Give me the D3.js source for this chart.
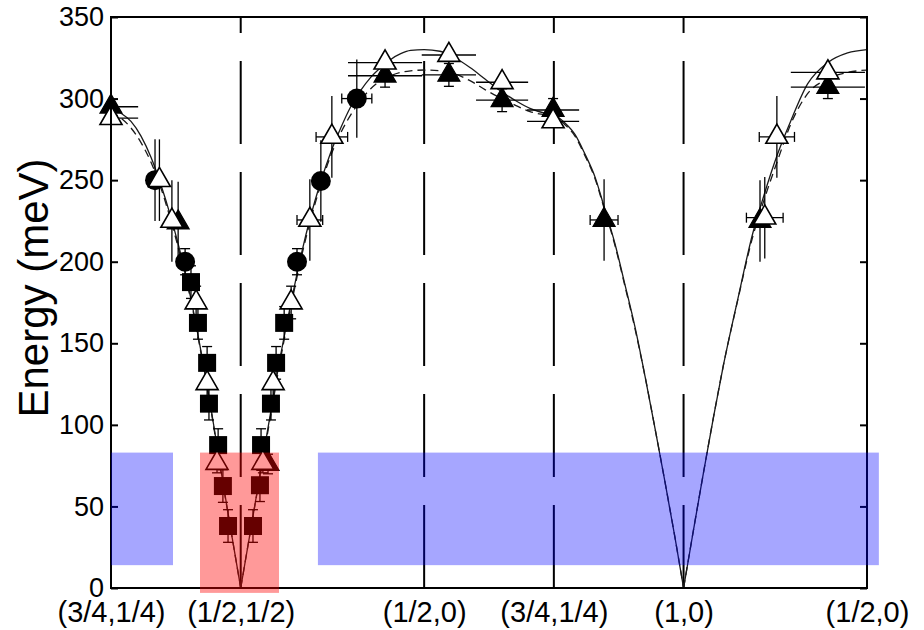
<!DOCTYPE html>
<html>
<head>
<meta charset="utf-8">
<script src="https://cdn.jsdelivr.net/npm/d3@7"></script>
<style>
  html, body { margin: 0; padding: 0; background: #fff; }
  svg { display: block; font-family: "Liberation Sans", Arial, Helvetica, sans-serif; }
</style>
</head>
<body>
<svg id="chart" width="924" height="630"></svg>
<script>
// High-symmetry points (h,k) along the reciprocal-space path and their labels
const pathPoints = [[0.75, 0.25], [0.5, 0.5], [0.5, 0], [0.75, 0.25], [1, 0], [0.5, 0]];
const pathLabels = ["(3/4,1/4)", "(1/2,1/2)", "(1/2,0)", "(3/4,1/4)", "(1,0)", "(1/2,0)"];
const energyTicks = [0, 50, 100, 150, 200, 250, 300, 350];

// Spin-wave fits: [path position q (r.l.u.), energy (meV)]
const fitSolid = [
  [0.000, 294], [0.0273, 291], [0.0545, 286], [0.0818, 277], [0.1090, 264], [0.1363, 247], [0.1635, 227],
  [0.1908, 204], [0.2180, 177], [0.2453, 145], [0.2726, 110], [0.2998, 72], [0.3271, 35], [0.3536, 0],
  [0.3809, 36], [0.4081, 72], [0.4354, 108], [0.4626, 143], [0.4899, 174], [0.5171, 203], [0.5444, 228],
  [0.5716, 249], [0.5989, 267], [0.6262, 282], [0.6534, 295], [0.6807, 305], [0.7079, 313], [0.7352, 319],
  [0.7624, 324], [0.7897, 327.5], [0.8169, 329.5], [0.8536, 330],
  [0.8967, 329], [0.9376, 325], [0.9785, 319], [1.0194, 312], [1.0602, 305], [1.1011, 299], [1.1420, 294],
  [1.1829, 291], [1.2071, 290],
  [1.2374, 285], [1.2646, 278], [1.2919, 266], [1.3192, 252], [1.3437, 234], [1.3737, 211], [1.4009, 186],
  [1.4282, 160], [1.4554, 130], [1.4827, 98], [1.5100, 65], [1.5372, 31], [1.5607, 0],
  [1.5880, 36], [1.6152, 71], [1.6425, 105], [1.6697, 137], [1.7079, 176.5], [1.7488, 217], [1.7788, 240],
  [1.8169, 266], [1.8523, 286], [1.8987, 309], [1.9532, 322], [2.0077, 328], [2.0607, 330]
];
const fitDashed = [
  [0.000, 292], [0.0273, 288], [0.0545, 282], [0.0818, 273], [0.1090, 261], [0.1363, 245], [0.1635, 225],
  [0.1908, 202], [0.2180, 176], [0.2453, 144], [0.2726, 109], [0.2998, 71], [0.3271, 35], [0.3536, 0],
  [0.3809, 36], [0.4081, 71], [0.4354, 106], [0.4626, 141], [0.4899, 172], [0.5171, 201], [0.5444, 226],
  [0.5716, 247], [0.5989, 265], [0.6262, 279], [0.6534, 290], [0.6807, 299], [0.7079, 306], [0.7352, 311],
  [0.7624, 314], [0.7897, 316], [0.8169, 317], [0.8536, 317.5],
  [0.8967, 317], [0.9376, 315], [0.9785, 311], [1.0194, 305.5], [1.0602, 300.5], [1.1011, 296], [1.1420, 292],
  [1.1829, 290], [1.2071, 289],
  [1.2374, 284], [1.2646, 277], [1.2919, 265], [1.3192, 251], [1.3437, 233], [1.3737, 210], [1.4009, 185],
  [1.4282, 159], [1.4554, 130], [1.4827, 98], [1.5100, 65], [1.5372, 31], [1.5607, 0],
  [1.5880, 36], [1.6152, 71], [1.6425, 105], [1.6697, 137], [1.7079, 176], [1.7488, 215], [1.7788, 237],
  [1.8169, 262], [1.8523, 284], [1.8987, 303], [1.9532, 312], [2.0077, 316], [2.0607, 317.5]
];

// Measured modes: q, energy e, errors dq / de
const squarePoints = [
  { q: 0.218, e: 187.5, de: 10 }, { q: 0.237, e: 162.5, de: 10 }, { q: 0.262, e: 138, de: 10 },
  { q: 0.267, e: 113, de: 10 }, { q: 0.292, e: 87.6, de: 10 }, { q: 0.305, e: 62.5, de: 10 },
  { q: 0.319, e: 38, de: 10 },
  { q: 0.387, e: 38, de: 10 }, { q: 0.406, e: 63, de: 10 }, { q: 0.409, e: 87.6, de: 10 },
  { q: 0.436, e: 113, de: 10 }, { q: 0.450, e: 138, de: 10 }, { q: 0.472, e: 162.5, de: 10 }
];
const circlePoints = [
  { q: 0.120, e: 250, de: 25 }, { q: 0.202, e: 200, de: 8 }, { q: 0.507, e: 200, de: 8 },
  { q: 0.572, e: 249.5, de: 25 }, { q: 0.670, e: 300, de: 24, dq: 0.041 }
];
const filledTrianglePoints = [
  { q: 0, e: 295, dq: 0.074 }, { q: 0.183, e: 224, de: 25 }, { q: 0.428, e: 76, de: 6 },
  { q: 0.747, e: 314, de: 7, dq: 0.101 }, { q: 0.921, e: 314.5, de: 7, dq: 0.074 },
  { q: 1.066, e: 299, de: 7, dq: 0.071 }, { q: 1.205, e: 293, de: 7, dq: 0.071 },
  { q: 1.344, e: 225.6, de: 25, dq: 0.038 }, { q: 1.769, e: 225, de: 25 },
  { q: 1.954, e: 307, de: 7, dq: 0.101 }
];
const openTrianglePoints = [
  { q: 0, e: 288, dq: 0.074 }, { q: 0.132, e: 250, de: 25 }, { q: 0.166, e: 225, de: 25 },
  { q: 0.232, e: 175, de: 10 }, { q: 0.262, e: 125.5, de: 10 }, { q: 0.289, e: 76.6, de: 6 },
  { q: 0.414, e: 76.6, de: 6 }, { q: 0.442, e: 125.5, de: 10 }, { q: 0.491, e: 175, de: 10 },
  { q: 0.542, e: 225.6, de: 25, dq: 0.035 }, { q: 0.602, e: 276.5, de: 25, dq: 0.043 },
  { q: 0.747, e: 322, dq: 0.101 }, { q: 0.921, e: 326.7, dq: 0.074 }, { q: 1.066, e: 310, dq: 0.071 },
  { q: 1.205, e: 286, dq: 0.071 }, { q: 1.782, e: 227, de: 25, dq: 0.05 },
  { q: 1.815, e: 276.5, de: 25, dq: 0.048 }, { q: 1.954, e: 316, dq: 0.101 }
];

// Shaded (q, energy) windows
const coveredRanges = [
  { q0: 0, q1: 0.169, e0: 14, e1: 83 },
  { q0: 0.564, q1: 2.093, e0: 14, e1: 83 }
];
const highlightRange = [{ q0: 0.2426, q1: 0.4579, e0: -3, e1: 83 }];

// ---- layout ----
const plot = { left: 111, right: 867, top: 17, bottom: 588 };

// cumulative distance along the path
const pathPos = [0];
for (let i = 1; i < pathPoints.length; i++) {
  const a = pathPoints[i - 1], b = pathPoints[i];
  pathPos.push(pathPos[i - 1] + Math.hypot(b[0] - a[0], b[1] - a[1]));
}

const x = d3.scaleLinear().domain([0, pathPos[pathPos.length - 1]]).range([plot.left, plot.right]);
const y = d3.scaleLinear().domain([0, 350]).range([plot.bottom, plot.top]);

const svg = d3.select("#chart");

svg.append("defs").append("clipPath").attr("id", "plot-clip")
  .append("rect")
  .attr("x", plot.left).attr("y", plot.top)
  .attr("width", plot.right - plot.left).attr("height", plot.bottom - plot.top);

// vertical dashed guides at interior high-symmetry points
svg.append("g").selectAll("line")
  .data(pathPos.slice(1, -1))
  .join("line")
  .attr("x1", d => x(d)).attr("x2", d => x(d))
  .attr("y1", y(0)).attr("y2", y(350))
  .attr("stroke", "#000").attr("stroke-width", 2)
  .attr("stroke-dasharray", "83,28");

// split a fit into branches at its zeros so the cusps stay sharp
function branches(pts) {
  const out = [];
  let cur = [];
  pts.forEach((p, i) => {
    cur.push(p);
    if (p[1] === 0 && i > 0 && i < pts.length - 1) { out.push(cur); cur = [p]; }
  });
  out.push(cur);
  return out;
}
const line = d3.line().x(d => x(d[0])).y(d => y(d[1])).curve(d3.curveMonotoneX);

const fits = svg.append("g").attr("fill", "none");
fits.selectAll("path.solid").data(branches(fitSolid)).join("path")
  .attr("class", "solid").attr("d", line)
  .attr("stroke", "#1a1a1a").attr("stroke-width", 1.3);
fits.selectAll("path.dashed").data(branches(fitDashed)).join("path")
  .attr("class", "dashed").attr("d", line)
  .attr("stroke", "#1a1a1a").attr("stroke-width", 1.3)
  .attr("stroke-dasharray", "8,5");

// error bars
function drawErrors(g, pts) {
  const segs = [];
  pts.forEach(p => {
    const cx = x(p.q), cy = y(p.e);
    if (p.de) {
      const y1 = y(p.e - p.de), y2 = y(p.e + p.de);
      segs.push([cx, y1, cx, y2]);
      if (Math.abs(y1 - cy) < 20) {
        segs.push([cx - 5, y1, cx + 5, y1]);
        segs.push([cx - 5, y2, cx + 5, y2]);
      }
    }
    if (p.dq) {
      const x1 = x(p.q - p.dq), x2 = x(p.q + p.dq);
      segs.push([x1, cy, x2, cy]);
      if (Math.abs(x2 - cx) < 20) {
        segs.push([x1, cy - 5, x1, cy + 5]);
        segs.push([x2, cy - 5, x2, cy + 5]);
      }
    }
  });
  g.selectAll("line").data(segs).join("line")
    .attr("x1", d => d[0]).attr("y1", d => d[1])
    .attr("x2", d => d[2]).attr("y2", d => d[3])
    .attr("stroke", "#000").attr("stroke-width", 1.3);
}
const errG = svg.append("g").attr("clip-path", "url(#plot-clip)");
[squarePoints, circlePoints, filledTrianglePoints, openTrianglePoints]
  .forEach(s => drawErrors(errG.append("g"), s));

// markers
const sq = d3.symbol(d3.symbolSquare, 324);
const circ = d3.symbol(d3.symbolCircle, 314);
const tri = d3.symbol(d3.symbolTriangle, 210);

svg.append("g").selectAll("path").data(squarePoints).join("path")
  .attr("d", sq).attr("transform", d => `translate(${x(d.q)},${y(d.e)})`)
  .attr("fill", "#000");
svg.append("g").selectAll("path").data(circlePoints).join("path")
  .attr("d", circ).attr("transform", d => `translate(${x(d.q)},${y(d.e)})`)
  .attr("fill", "#000");
svg.append("g").selectAll("path").data(filledTrianglePoints).join("path")
  .attr("d", tri).attr("transform", d => `translate(${x(d.q)},${y(d.e)})`)
  .attr("fill", "#000").attr("stroke", "#000").attr("stroke-width", 1.2);
svg.append("g").selectAll("path").data(openTrianglePoints).join("path")
  .attr("d", tri).attr("transform", d => `translate(${x(d.q)},${y(d.e)})`)
  .attr("fill", "#fff").attr("stroke", "#000").attr("stroke-width", 1.6);

// frame and axes
svg.append("rect")
  .attr("x", plot.left).attr("y", plot.top)
  .attr("width", plot.right - plot.left).attr("height", plot.bottom - plot.top)
  .attr("fill", "none").attr("stroke", "#000").attr("stroke-width", 2);

const yAxis = svg.append("g").attr("transform", `translate(${plot.left},0)`)
  .call(d3.axisLeft(y).tickValues(energyTicks).tickSize(-7).tickPadding(7));
const yAxisR = svg.append("g").attr("transform", `translate(${plot.right},0)`)
  .call(d3.axisRight(y).tickValues(energyTicks).tickSize(-7).tickFormat(""));
const xAxis = svg.append("g").attr("transform", `translate(0,${plot.bottom})`)
  .call(d3.axisBottom(x).tickValues(pathPos).tickSize(0).tickPadding(13)
    .tickFormat((d, i) => pathLabels[i]));

[yAxis, yAxisR, xAxis].forEach(g => {
  g.select(".domain").remove();
  g.selectAll(".tick line").attr("stroke", "#000").attr("stroke-width", 2);
  g.selectAll(".tick text").attr("fill", "#000")
    .style("font-family", '"Liberation Sans", Arial, sans-serif');
});
yAxis.selectAll(".tick text").style("font-size", "27px");
xAxis.selectAll(".tick text").style("font-size", "29px");

// shaded windows drawn over the data
svg.append("g").selectAll("rect").data(coveredRanges).join("rect")
  .attr("x", d => x(d.q0)).attr("width", d => x(d.q1) - x(d.q0))
  .attr("y", d => y(d.e1)).attr("height", d => y(d.e0) - y(d.e1))
  .attr("fill", "#0000ff").attr("fill-opacity", 0.35);
svg.append("g").selectAll("rect").data(highlightRange).join("rect")
  .attr("x", d => x(d.q0)).attr("width", d => x(d.q1) - x(d.q0))
  .attr("y", d => y(d.e1)).attr("height", d => y(d.e0) - y(d.e1))
  .attr("fill", "#ff0000").attr("fill-opacity", 0.4);

// axis title
svg.append("text")
  .attr("transform", `translate(48,288) rotate(-90)`)
  .attr("text-anchor", "middle")
  .style("font-size", "42px")
  .attr("fill", "#000")
  .text("Energy (meV)");
</script>
</body>
</html>
